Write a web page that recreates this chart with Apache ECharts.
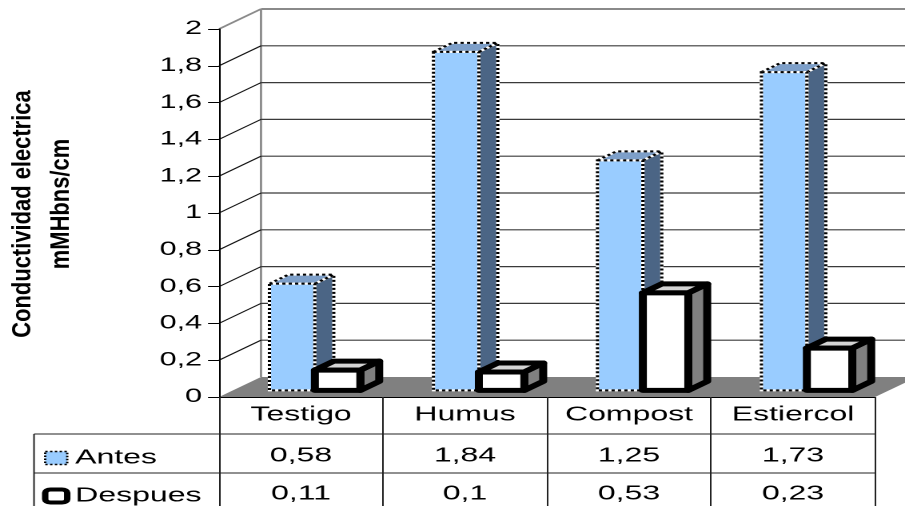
<!DOCTYPE html>
<html>
<head>
<meta charset="utf-8">
<title>Conductividad electrica</title>
<script src="https://cdn.jsdelivr.net/npm/echarts@6/dist/echarts.min.js"></script>
<style>
  html, body { margin: 0; padding: 0; background: #fff; overflow: hidden; }
  #frame { width: 905px; height: 506px; overflow: hidden; position: relative; }
  #chart { width: 566px; height: 506px; transform-origin: 0 0; }
</style>
</head>
<body>
<div id="frame"><div id="chart"></div></div>
<script>
// ---- data ----
const categories = ['Testigo', 'Humus', 'Compost', 'Estiercol'];
const antes = [0.58, 1.84, 1.25, 1.73];
const despues = [0.11, 0.1, 0.53, 0.23];
const yTicks = [0, 0.2, 0.4, 0.6, 0.8, 1, 1.2, 1.4, 1.6, 1.8, 2];
const seriesNames = ['Antes', 'Despues'];
const axisTitle = ['Conductividad electrica', 'mMHbns/cm'];

// ---- page geometry: the chart is laid out narrow and stretched horizontally ----
const PAGE_W = 905, CHART_W = 566;
const SX = PAGE_W / CHART_W;
document.getElementById('chart').style.transform = 'scaleX(' + SX + ')';
const px = x => x / SX;          // page x -> chart x

const FONT = '"Liberation Sans", Arial, sans-serif';
const DX = px(42), DY = -20;     // depth vector of the 3D box
const BAR_FRONT = 0.33, BAR_BACK = 0.78;  // bar depth slice
const BAR_FRAC = 0.277;          // bar width as share of a category band
const ROW_Y = [456, 494];        // data-table rows
const fmt = v => String(v).replace('.', ',');

const Y_MIN = yTicks[0], Y_MAX = yTicks[yTicks.length - 1];

// back wall, side wall lines and floor
function renderWalls(params, api) {
  const v = api.value(1);
  const cs = params.coordSys;
  const L = cs.x, R = cs.x + cs.width;
  const y = api.coord([0, v])[1];
  const children = [];
  if (v === Y_MIN) {
    const yt = api.coord([0, Y_MAX])[1];
    children.push({
      type: 'polygon',
      shape: { points: [[L, y], [L + DX, y + DY], [R + DX, y + DY], [R, y]] },
      style: { fill: '#808080' }
    });
    children.push({
      type: 'line',
      shape: { x1: L + DX, y1: yt + DY, x2: L + DX, y2: y + DY },
      style: { stroke: '#8a8a8a', lineWidth: 1.4 }
    });
  } else {
    const top = v === Y_MAX;
    children.push({
      type: 'line',
      shape: { x1: L + DX, y1: y + DY, x2: R + DX + 20, y2: y + DY },
      style: { stroke: top ? '#8a8a8a' : '#3a3a3a', lineWidth: top ? 2 : 1.2 }
    });
    children.push({
      type: 'line',
      shape: { x1: L, y1: y, x2: L + DX, y2: y + DY },
      style: { stroke: top ? '#8a8a8a' : '#111', lineWidth: top ? 1.6 : 1 }
    });
  }
  return { type: 'group', children };
}

function dotted(points) {
  return [
    { type: 'polygon', shape: { points }, style: { fill: 'none', stroke: '#fff', lineWidth: 2 } },
    { type: 'polygon', shape: { points }, style: { fill: 'none', stroke: '#000', lineWidth: 2, lineDash: [2, 2] } }
  ];
}

// 3D column: front face, top and right side, plus its value in the data table
function makeBar(kind) {
  return function (params, api) {
    const ci = api.value(0), v = api.value(1);
    const base = api.coord([ci, 0]);
    const top = api.coord([ci, v]);
    const band = api.size([1, 0])[0];
    const w = band * BAR_FRAC;
    const ox = DX * BAR_FRONT, oy = DY * BAR_FRONT;
    const dx = DX * (BAR_BACK - BAR_FRONT), dy = DY * (BAR_BACK - BAR_FRONT);
    const x0 = base[0] + (kind === 0 ? -w : 0) + ox, x1 = x0 + w;
    const yb = base[1] + oy, yt = top[1] + oy;
    const front = [[x0, yt], [x1, yt], [x1, yb], [x0, yb]];
    const side = [[x1, yt], [x1 + dx, yt + dy], [x1 + dx, yb + dy], [x1, yb]];
    const lid = [[x0, yt], [x0 + dx, yt + dy], [x1 + dx, yt + dy], [x1, yt]];
    let children;
    if (kind === 0) {
      children = [
        { type: 'polygon', shape: { points: side }, style: { fill: '#4b6585' } },
        { type: 'polygon', shape: { points: lid }, style: { fill: '#7d9fc9' } },
        { type: 'polygon', shape: { points: front }, style: { fill: '#99ccff' } }
      ].concat(dotted(side), dotted(lid), dotted(front));
    } else {
      const st = { stroke: '#000', lineWidth: 5, lineJoin: 'round' };
      children = [
        { type: 'polygon', shape: { points: side }, style: Object.assign({ fill: '#808080' }, st) },
        { type: 'polygon', shape: { points: lid }, style: Object.assign({ fill: '#d4d4d4' }, st) },
        { type: 'polygon', shape: { points: front }, style: Object.assign({ fill: '#ffffff' }, st) }
      ];
    }
    children.push({
      type: 'text',
      x: base[0], y: ROW_Y[kind],
      style: {
        text: fmt(v), fill: '#000', fontSize: 20, fontFamily: FONT,
        align: 'center', verticalAlign: 'middle', textAlign: 'center', textVerticalAlign: 'middle'
      }
    });
    return { type: 'group', children };
  };
}

const chart = echarts.init(document.getElementById('chart'), null, { devicePixelRatio: 2 });

const titleStyle = {
  fill: '#000', font: 'bold 17px ' + FONT,
  align: 'center', verticalAlign: 'middle', textAlign: 'center', textVerticalAlign: 'middle'
};

chart.setOption({
  animation: false,
  backgroundColor: '#fff',
  grid: { left: px(219), right: px(30), top: 29, bottom: 109 },
  xAxis: {
    type: 'category',
    data: categories,
    z: 10,
    axisLine: { show: true, lineStyle: { color: '#000', width: 1 } },
    axisTick: { show: true, interval: 0, length: 109, lineStyle: { color: '#222', width: 1 } },
    axisLabel: { interval: 0, hideOverlap: false, color: '#000', fontSize: 20, fontFamily: FONT, margin: 8 },
    splitLine: { show: false }
  },
  yAxis: {
    type: 'value',
    min: Y_MIN, max: Y_MAX, interval: 0.2,
    z: 10,
    axisLine: { show: true, lineStyle: { color: '#000', width: 1 } },
    axisTick: { show: true, length: px(11), lineStyle: { color: '#000' } },
    axisLabel: { color: '#000', fontSize: 19, fontFamily: FONT, margin: px(17), formatter: fmt },
    splitLine: { show: false }
  },
  legend: {
    orient: 'vertical',
    left: px(42), top: 448,
    padding: 0,
    itemGap: 18, itemWidth: px(22), itemHeight: 13,
    selectedMode: false,
    textStyle: { color: '#000', fontSize: 20, lineHeight: 20, fontFamily: FONT },
    data: [
      { name: seriesNames[0], icon: 'rect',
        itemStyle: { color: '#99ccff', borderColor: '#000', borderWidth: 1.5, borderType: 'dotted' } },
      { name: seriesNames[1], icon: 'roundRect',
        itemStyle: { color: '#fff', borderColor: '#000', borderWidth: 4 } }
    ]
  },
  graphic: [
    { type: 'text', x: px(23), y: 214, rotation: Math.PI / 2, scaleX: 1.29,
      style: Object.assign({ text: axisTitle[0] }, titleStyle) },
    { type: 'text', x: px(61), y: 204, rotation: Math.PI / 2, scaleX: 1.29,
      style: Object.assign({ text: axisTitle[1] }, titleStyle) },
    // data table rules
    { type: 'line', shape: { x1: px(34), y1: 434, x2: px(875), y2: 434 }, style: { stroke: '#222', lineWidth: 1 } },
    { type: 'line', shape: { x1: px(34), y1: 473, x2: px(875), y2: 473 }, style: { stroke: '#222', lineWidth: 1 } },
    { type: 'line', shape: { x1: px(34), y1: 434, x2: px(34), y2: 506 }, style: { stroke: '#222', lineWidth: 1 } }
  ],
  series: [
    {
      type: 'custom', name: 'walls', silent: true,
      renderItem: renderWalls,
      encode: { x: 0, y: 1 },
      data: yTicks.map(v => [0, v])
    },
    {
      type: 'custom', name: seriesNames[0],
      renderItem: makeBar(0),
      encode: { x: 0, y: 1 },
      data: antes.map((v, i) => [i, v])
    },
    {
      type: 'custom', name: seriesNames[1],
      renderItem: makeBar(1),
      encode: { x: 0, y: 1 },
      data: despues.map((v, i) => [i, v])
    }
  ]
});
</script>
</body>
</html>
